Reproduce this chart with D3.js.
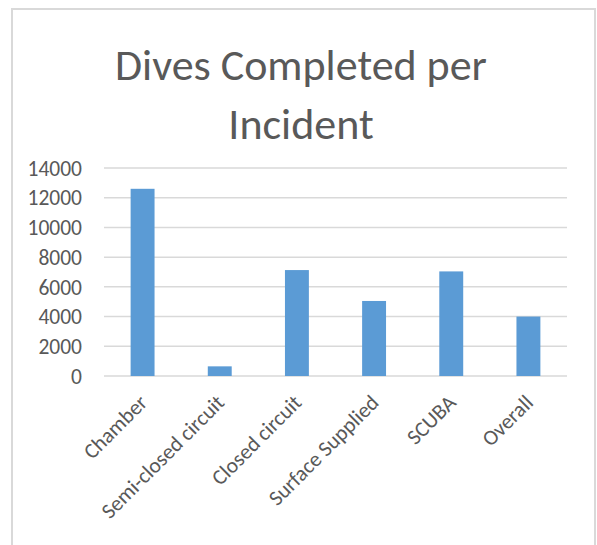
<!DOCTYPE html>
<html>
<head>
<meta charset="utf-8">
<script src="https://cdn.jsdelivr.net/npm/d3@7"></script>
<style>
  body { margin: 0; background: #fff; }
  svg { display: block; font-family: Carlito, Calibri, Lato, sans-serif; }
</style>
</head>
<body>
<svg id="chart" width="597" height="545"></svg>
<script>
// Chart data
const categories = ['Chamber', 'Semi-closed circuit', 'Closed circuit', 'Surface Supplied', 'SCUBA', 'Overall'];
const divesPerIncident = [12600, 650, 7130, 5050, 7040, 4000];
const yTicks = [0, 2000, 4000, 6000, 8000, 10000, 12000, 14000];
const titleLines = ['Dives Completed per', 'Incident'];

const width = 597, height = 545;
const margin = { top: 168, right: 30, bottom: 169, left: 104 };
const ink = '#595959';

const svg = d3.select('#chart');

// outer frame
svg.append('rect')
    .attr('x', 12).attr('y', 9)
    .attr('width', 583).attr('height', 560)
    .attr('fill', '#fff')
    .attr('stroke', '#d9d9d9')
    .attr('stroke-width', 2);

// title
svg.append('text')
    .attr('text-anchor', 'middle')
    .attr('fill', ink)
    .attr('font-size', '44px')
    .attr('font-weight', 300)
    .selectAll('tspan')
    .data(titleLines)
    .join('tspan')
    .attr('x', 301)
    .attr('y', (d, i) => 80 + i * 59)
    .text(d => d);

const g = svg.append('g')
    .attr('transform', `translate(${margin.left},${margin.top})`);

const innerW = 567 - margin.left;
const innerH = 376 - margin.top;

const x = d3.scaleBand()
    .domain(categories)
    .range([0, innerW])
    .paddingInner(0.69)
    .paddingOuter(0.345);

const y = d3.scaleLinear()
    .domain([0, 14000])
    .range([innerH, 0]);

// gridlines
g.append('g')
    .selectAll('line')
    .data(yTicks)
    .join('line')
    .attr('x1', 0).attr('x2', innerW)
    .attr('y1', d => y(d)).attr('y2', d => y(d))
    .attr('stroke', '#d9d9d9')
    .attr('stroke-width', 1.5);

// y tick labels
g.append('g')
    .selectAll('text')
    .data(yTicks)
    .join('text')
    .attr('x', -22)
    .attr('y', d => y(d))
    .attr('dy', '0.36em')
    .attr('text-anchor', 'end')
    .attr('fill', ink)
    .attr('font-size', '21.5px')
    .text(d => d);

// bars
g.append('g')
    .selectAll('rect')
    .data(divesPerIncident)
    .join('rect')
    .attr('x', (d, i) => x(categories[i]))
    .attr('width', x.bandwidth())
    .attr('y', d => y(d))
    .attr('height', d => innerH - y(d))
    .attr('fill', '#5b9bd5');

// x category labels, rotated
g.append('g')
    .selectAll('text')
    .data(categories)
    .join('text')
    .attr('transform', d => `translate(${x(d) + x.bandwidth() / 2 - 5},${innerH + 17}) rotate(-45)`)
    .attr('dy', '0.72em')
    .attr('text-anchor', 'end')
    .attr('fill', ink)
    .attr('font-size', '21.5px')
    .text(d => d);
</script>
</body>
</html>
